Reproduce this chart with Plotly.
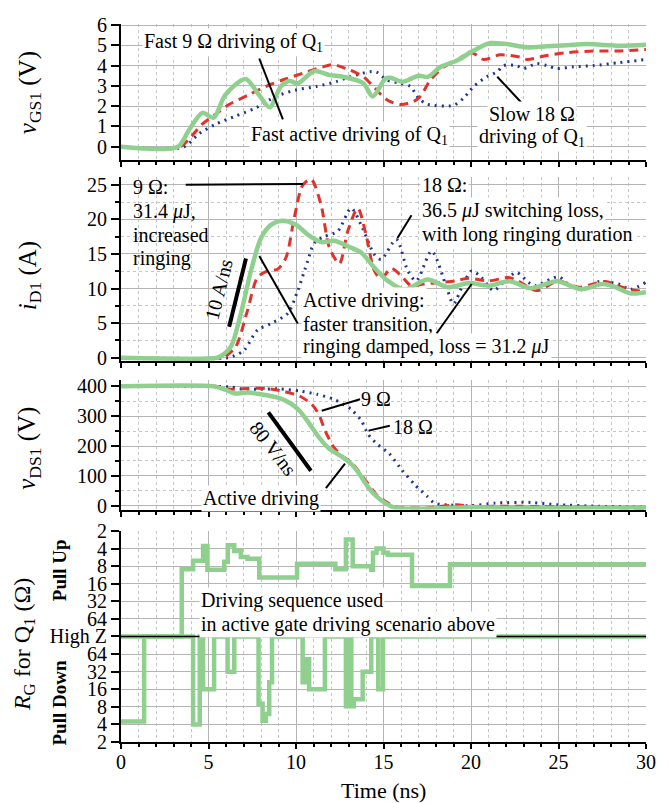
import math
import plotly.graph_objects as go

FONT = "Liberation Serif, Times New Roman, serif"
GREEN = "#8fd08f"
RED = "#e3322b"
BLUE = "#1f3590"

# ---------------- Panel 1: v_GS1 (V) ----------------
t_vgs_active = [0, 3.25, 3.85, 4.65, 5.29, 5.96, 7.12, 7.88, 8.5, 9.13, 9.62, 10.1, 11.06, 11.92,
                12.69, 13.85, 14.38, 15.1, 15.4, 16.1, 17.0, 17.55, 18.25, 19.2, 20.15, 21.1, 22.05,
                23.2, 24.33, 25.5, 26.6, 28.5, 30]
vgs_active = [0, 0, 0.78, 1.67, 1.43, 2.56, 3.34, 2.56, 1.95, 2.97, 3.24, 3.13, 3.73, 3.53,
              3.45, 3.13, 2.48, 3.35, 3.4, 3.2, 3.5, 3.45, 3.93, 4.25, 4.74, 5.11, 5.06,
              4.9, 4.95, 5.0, 5.06, 4.98, 5.03]
t_vgs_9 = [0, 3.35, 4.04, 4.62, 5.38, 6.15, 7.3, 8.27, 9.23, 10.38, 11.54, 12.1, 13.08, 13.85,
           14.52, 15.19, 15.97, 16.73, 17.1, 17.68, 18.44, 19.2, 19.87, 20.2, 20.72, 21.67, 22.8,
           23.2, 24.33, 25.5, 27.0, 28.5, 30]
vgs_9 = [0, 0, 0.53, 1.1, 1.59, 2.07, 2.56, 2.97, 3.29, 3.62, 3.94, 4.05, 3.78, 3.45,
         2.88, 2.32, 2.08, 2.24, 2.48, 3.29, 3.93, 4.25, 4.66, 4.58, 4.3, 4.53, 4.42,
         4.3, 4.5, 4.64, 4.72, 4.72, 4.8]
t_vgs_18 = [0, 3.6, 4.42, 5.38, 6.54, 7.69, 8.85, 10.0, 11.15, 12.3, 13.08, 14.23, 14.6, 15.2,
            15.97, 16.54, 17.0, 17.5, 19.0, 19.58, 20.15, 20.9, 21.5, 21.86, 22.6, 23.0, 23.76,
            24.33, 24.9, 25.85, 27.0, 28.5, 30]
vgs_18 = [0, 0, 0.62, 1.1, 1.51, 1.91, 2.48, 2.8, 2.97, 3.21, 3.45, 3.7, 3.68, 3.29,
          3.13, 2.97, 2.4, 2.1, 2.04, 2.4, 2.97, 3.45, 3.7, 4.0, 4.0, 3.86, 4.1,
          4.0, 3.86, 3.94, 4.0, 4.15, 4.3]

# ---------------- Panel 2: i_D1 (A) ----------------
t_id_active = [0, 5.5, 5.75, 6.28, 6.85, 7.42, 8.0, 8.57, 9.24, 10.0, 10.67, 11.43, 12.19, 12.96,
               13.72, 14.48, 15.25, 16.2, 17.5, 18.7, 19.9, 21.0, 22.2, 23.4, 24.9, 26.3, 27.5,
               28.15, 29.1, 30]
id_active = [0, 0, 0.3, 1.6, 6.4, 12.5, 17.3, 19.2, 19.8, 19.2, 17.8, 16.7, 16.9, 16.1,
             15.2, 13.0, 11.1, 9.85, 11.3, 10.2, 10.8, 10.4, 11.05, 10.05, 11.05, 9.9, 10.65,
             10.3, 9.3, 9.45]
t_id_9 = [0, 5.75, 5.95, 6.56, 7.23, 7.8, 8.38, 8.95, 9.43, 9.9, 10.38, 10.86, 11.43, 11.91, 12.48,
          12.96, 13.53, 14.0, 14.48, 14.87, 15.44, 16.1, 16.58, 17.3, 18.32, 19.08, 19.85, 21.0,
          22.14, 22.7, 23.76, 25.0, 26.15, 27.67, 28.4, 29.2, 30]
id_9 = [0, 0, 0.2, 1.6, 6.85, 11.6, 12.55, 12.8, 14.5, 20.2, 24.9, 25.8, 22.1, 15.9, 13.6,
        18.3, 21.6, 17.8, 12.55, 11.4, 12.9, 11.6, 10.4, 10.65, 10.9, 11.1, 11.5, 11.1,
        11.6, 11.1, 9.7, 11.1, 10.2, 11.0, 10.4, 9.8, 9.55]
t_id_18 = [0, 6.1, 6.4, 7.04, 7.8, 8.57, 9.52, 10.1, 10.67, 11.05, 11.62, 12.39, 13.15, 13.72, 14.48,
           14.87, 15.73, 16.39, 16.87, 17.75, 18.6, 18.99, 19.56, 20.04, 20.6, 21.28, 21.85, 22.6,
           23.28, 23.66, 25.0, 25.57, 26.34, 27.29, 28.43, 29.1, 30]
id_18 = [0, 0, 0.2, 1.1, 4.0, 4.95, 6.4, 9.7, 14.0, 16.6, 17.5, 18.3, 21.6, 19.2, 14.9,
         14.2, 17.1, 12.55, 11.1, 15.4, 10.2, 7.8, 10.65, 12.55, 11.6, 9.7, 10.9, 12.3,
         10.9, 10.4, 11.7, 10.6, 9.9, 11.0, 10.65, 9.9, 10.9]

# ---------------- Panel 3: v_DS1 (V) ----------------
t_vds_active = [0, 5.3, 6.04, 6.5, 7.26, 8.0, 8.97, 9.7, 10.2, 10.7, 11.3, 11.9, 12.64, 13.13,
                13.6, 14.1, 14.6, 15.1, 15.7, 17.5, 20.0, 22.4, 30]
vds_active = [400, 400, 387, 376, 379, 373.5, 362, 342.5, 318, 280, 230, 191, 163.5, 141.4,
              108.3, 64, 31, 8.8, -7.7, -10, -5.5, -7.7, -7.7]
t_vds_9 = [0, 5.4, 6.28, 7.26, 8.24, 9.2, 10.2, 10.9, 11.3, 11.66, 12.15, 12.64, 13.13, 13.6,
           14.1, 14.6, 15.1, 15.7, 17.5, 19.2, 20.0, 22.4, 27.3, 30]
vds_9 = [400, 400, 390, 393, 393, 384.5, 368, 340, 307, 252, 196.7, 165.8, 147, 113.8,
         75, 36.5, 14.4, -4.4, -7.7, 3.3, -2, -2, -5.5, -11]
t_vds_18 = [0, 5.3, 6.28, 6.77, 7.75, 8.97, 10.2, 11.2, 12.15, 13.13, 13.74, 14.1, 14.6, 15.33,
            16.06, 16.8, 17.5, 17.9, 18.5, 20.0, 21.4, 23.4, 24.9, 27.3, 30]
vds_18 = [400, 400, 397.8, 392, 390, 392, 384.5, 373.5, 357, 323.8, 285, 241, 207.7, 174.6,
          119, 69.6, 31, 8.8, 3.3, 0, 8.8, 11, 3.3, -2, -5.5]

# ---------------- Panel 4: gate resistance sequence (ohm, None = High Z) ----------------
t_pull_up = [0, 3.47, 4.12, 4.69, 4.94, 5.9, 6.1, 6.47, 6.85, 7.23, 7.9, 10.06, 12.25, 12.85,
             13.24, 14.3, 14.4, 14.6, 15.0, 15.25, 16.63, 18.8, 30]
r_pull_up = [None, 9, 6.5, 3.6, 9.2, 6.7, 3.5, 4.4, 5.6, 6, 12.5, 7.3, 9, 2.8,
             8, 9.2, 4.7, 4, 4.7, 5.1, 17.5, 7.4, 7.4]
t_pull_down = [0, 1.32, 4.12, 4.5, 4.69, 5.32, 6.09, 6.47, 7.86, 8.09, 8.28, 8.47, 8.63, 10.38,
               10.6, 10.75, 11.65, 12.85, 13.08, 13.16, 13.3, 13.81, 14.3, 14.7, 14.97, 30]
r_pull_down = [4.5, None, 4, None, 16, None, 32, None, 9, 4.6, 6, 21, None, 21,
               52, 16, None, 8.2, None, 8.2, 10.8, 32, None, 16, None, None]
rg_tick_labels = ["2", "4", "8", "16", "32", "64", "High Z", "64", "32", "16", "8", "4", "2"]


def up_level(r):
    return 0 if r is None else 7 - math.log2(r)


def down_level(r):
    return 0 if r is None else math.log2(r) - 7


fig = go.Figure()


def add_set(xa, ya, tb, vb, tr, vr, ta, va, sm=0.8):
    fig.add_trace(go.Scatter(x=tb, y=vb, xaxis=xa, yaxis=ya, mode="lines", hoverinfo="skip",
                             line=dict(color=BLUE, width=3, dash="2px,5px", shape="spline", smoothing=sm)))
    fig.add_trace(go.Scatter(x=tr, y=vr, xaxis=xa, yaxis=ya, mode="lines", hoverinfo="skip",
                             line=dict(color=RED, width=3, dash="9px,6px", shape="spline", smoothing=sm)))
    fig.add_trace(go.Scatter(x=ta, y=va, xaxis=xa, yaxis=ya, mode="lines", hoverinfo="skip",
                             line=dict(color=GREEN, width=4.5, shape="spline", smoothing=sm)))


add_set("x", "y", t_vgs_18, vgs_18, t_vgs_9, vgs_9, t_vgs_active, vgs_active)
add_set("x2", "y2", t_id_18, id_18, t_id_9, id_9, t_id_active, id_active)
add_set("x3", "y3", t_vds_18, vds_18, t_vds_9, vds_9, t_vds_active, vds_active, sm=0.6)

fig.add_trace(go.Scatter(x=t_pull_up, y=[up_level(r) for r in r_pull_up], xaxis="x4", yaxis="y4",
                         mode="lines", hoverinfo="skip", line=dict(color=GREEN, width=4.5, shape="hv")))
fig.add_trace(go.Scatter(x=t_pull_down, y=[down_level(r) for r in r_pull_down], xaxis="x4", yaxis="y4",
                         mode="lines", hoverinfo="skip", line=dict(color=GREEN, width=4.5, shape="hv")))

tickfont = dict(family=FONT, size=20, color="black")
GRID = "#b4b4b4"
MGRID = "#c6c6c6"


def xaxis(anchor, labels):
    return dict(domain=[0, 1], anchor=anchor, range=[0, 30], showline=True, linewidth=2, linecolor="black",
                ticks="outside", ticklen=5, tickwidth=2, tickcolor="black", tick0=0, dtick=5,
                showgrid=True, gridcolor=GRID, gridwidth=1, zeroline=False, showticklabels=labels,
                tickfont=tickfont, ticklabelstandoff=-4,
                minor=dict(dtick=1, ticks="outside", ticklen=3, tickwidth=2, tickcolor="black",
                           showgrid=True, gridcolor=MGRID, griddash="dot", gridwidth=1))


def yaxis(anchor, domain, rng, dtick, minor_dtick=None, **kw):
    d = dict(domain=domain, anchor=anchor, range=rng, showline=True, linewidth=2, linecolor="black",
             ticks="outside", ticklen=8, tickwidth=2, tickcolor="black", tick0=0, dtick=dtick,
             showgrid=True, gridcolor=GRID, gridwidth=1, zeroline=False, tickfont=tickfont)
    if minor_dtick:
        d["minor"] = dict(dtick=minor_dtick, ticks="outside", ticklen=4, tickwidth=2, tickcolor="black",
                          showgrid=True, gridcolor=MGRID, griddash="dot", gridwidth=1)
    d.update(kw)
    return d


layout = dict(
    width=668, height=803, margin=dict(l=121, r=15, t=14, b=61),
    paper_bgcolor="white", plot_bgcolor="white", showlegend=False,
    font=dict(family=FONT, size=20, color="black"),
    xaxis=xaxis("y", False), xaxis2=xaxis("y2", False), xaxis3=xaxis("y3", False), xaxis4=xaxis("y4", True),
    yaxis=yaxis("x", [0.8095, 0.9986], [-0.65, 6.05], 1),
    yaxis2=yaxis("x2", [0.5293, 0.7857], [-0.53, 26.1], 5, 2.5),
    yaxis3=yaxis("x3", [0.3232, 0.5041], [-13.2, 422.8], 100, 50),
    yaxis4=yaxis("x4", [0, 0.2935], [-6, 6], None, tickmode="array",
                 tickvals=list(range(-6, 7)), ticktext=rg_tick_labels[::-1]),
)
fig.update_layout(**layout)

shapes = []


def seg(xr, yr, x0, y0, x1, y1, w=2):
    shapes.append(dict(type="line", xref=xr, yref=yr, x0=x0, y0=y0, x1=x1, y1=y1,
                       line=dict(color="black", width=w), layer="above"))


seg("x", "y", 7.9, 4.35, 9.25, 1.35)
seg("x", "y", 21.5, 3.45, 22.9, 2.16)
seg("x2", "y2", 3.7, 25.0, 10.4, 25.1)
seg("x2", "y2", 16.6, 20.6, 15.8, 17.3)
seg("x2", "y2", 7.14, 14.35, 6.18, 4.47, 4)
seg("x2", "y2", 7.9, 14.7, 10.1, 4.95)
seg("x2", "y2", 20.04, 10.65, 18.03, 3.5)
seg("x3", "y3", 11.47, 318, 13.66, 356.6)
seg("x3", "y3", 14.15, 251.6, 15.36, 268)
seg("x3", "y3", 8.42, 312.6, 10.85, 117.2, 4)
seg("x3", "y3", 11.71, 58.6, 12.8, 141)
seg("x4", "y4", 0, 0, 30, 0, 1.5)

ann = []


def txt(xr, yr, x, y, s, xanchor="left", angle=0, bg="white", size=20, **kw):
    ann.append(dict(xref=xr, yref=yr, x=x, y=y, text=s, showarrow=False, xanchor=xanchor, yanchor="middle",
                    textangle=angle, bgcolor=bg, borderpad=1, font=dict(family=FONT, size=size, color="black"),
                    **kw))


txt("x", "y", 6.4, 5.15, "Fast 9 Ω driving of Q<sub>1</sub>", xanchor="center")
txt("x", "y", 13.05, 0.55, "Fast active driving of Q<sub>1</sub>", xanchor="center")
txt("x", "y", 23.5, 1.6, "Slow 18 Ω", xanchor="center")
txt("x", "y", 23.5, 0.45, "driving of Q<sub>1</sub>", xanchor="center")

txt("x2", "y2", 0.55, 24.7, "9 Ω:", bg=None)
txt("x2", "y2", 0.55, 21.2, "31.4 <i>μ</i>J,", bg=None)
txt("x2", "y2", 0.55, 17.7, "increased", bg=None)
txt("x2", "y2", 0.55, 14.3, "ringing", bg=None)
txt("x2", "y2", 17.1, 24.9, "18 Ω:")
txt("x2", "y2", 17.1, 21.3, "36.5 <i>μ</i>J switching loss,")
txt("x2", "y2", 17.1, 17.8, "with long ringing duration")
txt("x2", "y2", 5.6, 9.9, "10 A/ns", xanchor="center", angle=-76, bg=None)
txt("x2", "y2", 10.3, 8.3, "Active driving:")
txt("x2", "y2", 10.3, 4.95, "faster transition,")
txt("x2", "y2", 10.3, 1.6, "ringing damped, loss = 31.2 <i>μ</i>J")

txt("x3", "y3", 13.6, 357, "9 Ω", bg=None)
txt("x3", "y3", 15.45, 263, "18 Ω", bg=None)
txt("x3", "y3", 8.73, 191, "80 V/ns", xanchor="center", angle=52, bg=None)
txt("x3", "y3", 8.0, 25.4, "Active driving", xanchor="center")

txt("x4", "y4", 4.45, 2.06, "Driving sequence used")
txt("x4", "y4", 4.45, 0.71, "in active gate driving scenario above")

# axis titles
txt("paper", "paper", -0.175, 0.9025, "<i>v</i><sub>GS1</sub> (V)", xanchor="center", angle=-90, bg=None, size=25)
txt("paper", "paper", -0.175, 0.648, "<i>i</i><sub>D1</sub> (A)", xanchor="center", angle=-90, bg=None, size=25)
txt("paper", "paper", -0.175, 0.408, "<i>v</i><sub>DS1</sub> (V)", xanchor="center", angle=-90, bg=None, size=25)
txt("paper", "paper", -0.185, 0.136, "<i>R</i><sub>G</sub> for Q<sub>1</sub> (Ω)", xanchor="center", angle=-90,
    bg=None, size=24)
txt("paper", "paper", -0.118, 0.239, "<b>Pull Up</b>", xanchor="center", angle=-90, bg=None, size=19)
txt("paper", "paper", -0.118, 0.0536, "<b>Pull Down</b>", xanchor="center", angle=-90, bg=None, size=19)
txt("paper", "paper", 0.5, -0.068, "Time (ns)", xanchor="center", bg=None, size=22)

fig.update_layout(shapes=shapes, annotations=ann)
fig.write_html("out.html")
